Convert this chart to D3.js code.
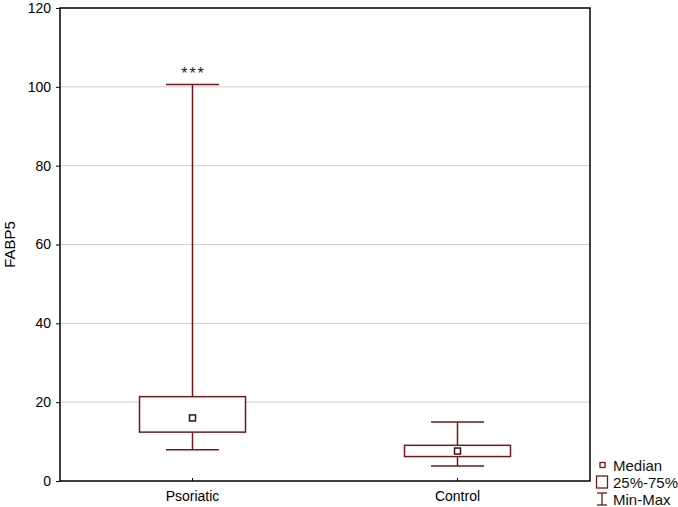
<!DOCTYPE html>
<html><head><meta charset="utf-8">
<script src="https://cdn.jsdelivr.net/npm/d3@7"></script>
<style>body{margin:0;background:#fff}text{font-family:Arial,"Liberation Sans",sans-serif}</style>
</head><body>
<svg id="c" width="678" height="507"></svg>
<script>
const categories = ["Psoriatic", "Control"];
const minVals = [7.9, 3.8];
const q1Vals = [12.4, 6.2];
const medianVals = [16.0, 7.6];
const q3Vals = [21.4, 9.05];
const maxVals = [100.6, 15.0];
const yTicks = [0, 20, 40, 60, 80, 100, 120];
const annotations = ["***", ""];
const legendLabels = ["Median", "25%-75%", "Min-Max"];

const col = "#6e1a1a";
const svg = d3.select("#c");
const m = {l: 60, r: 88, t: 8, b: 26};
const W = 678, H = 507;
const x = d3.scaleBand().domain(categories).range([m.l, W - m.r]);
const y = d3.scaleLinear().domain([0, 120]).range([H - m.b, m.t]);

// gridlines
svg.append("g").selectAll("line").data(yTicks.filter(d => d > 0 && d < 120)).join("line")
  .attr("x1", m.l).attr("x2", W - m.r).attr("y1", d => y(d)).attr("y2", d => y(d))
  .attr("stroke", "#cfcfcf").attr("stroke-width", 1);

// y axis
const ya = svg.append("g").attr("transform", `translate(${m.l},0)`)
  .call(d3.axisLeft(y).tickValues(yTicks).tickSize(4).tickPadding(5));
ya.select(".domain").remove();
ya.selectAll("text").attr("font-size", 14).attr("fill", "#000");
ya.selectAll("line").attr("stroke", "#000");

// x axis
const xa = svg.append("g").attr("transform", `translate(0,${H - m.b})`)
  .call(d3.axisBottom(x).tickSize(-3).tickPadding(10));
xa.select(".domain").remove();
xa.selectAll("text").attr("font-size", 14).attr("fill", "#000");
xa.selectAll("line").attr("stroke", "#000");

// frame
svg.append("rect").attr("x", m.l).attr("y", m.t).attr("width", W - m.l - m.r).attr("height", H - m.t - m.b)
  .attr("fill", "none").attr("stroke", "#000").attr("stroke-width", 1.5);

// y label
svg.append("text").attr("transform", `translate(15,${(m.t + H - m.b) / 2}) rotate(-90)`)
  .attr("text-anchor", "middle").attr("font-size", 15).text("FABP5");

const bw = x.bandwidth() * 0.4, cw = x.bandwidth() * 0.2;
const g = svg.append("g");
categories.forEach((c, i) => {
  const cx = x(c) + x.bandwidth() / 2;
  g.append("line").attr("x1", cx).attr("x2", cx).attr("y1", y(maxVals[i])).attr("y2", y(q3Vals[i])).attr("stroke", col).attr("stroke-width", 1.5);
  g.append("line").attr("x1", cx).attr("x2", cx).attr("y1", y(q1Vals[i])).attr("y2", y(minVals[i])).attr("stroke", col).attr("stroke-width", 1.5);
  [maxVals[i], minVals[i]].forEach(v => g.append("line").attr("x1", cx - cw / 2).attr("x2", cx + cw / 2).attr("y1", y(v)).attr("y2", y(v)).attr("stroke", col).attr("stroke-width", 1.5));
  g.append("rect").attr("x", cx - bw / 2).attr("width", bw).attr("y", y(q3Vals[i])).attr("height", y(q1Vals[i]) - y(q3Vals[i]))
    .attr("fill", "#fff").attr("stroke", col).attr("stroke-width", 1.5);
  g.append("rect").attr("x", cx - 3).attr("y", y(medianVals[i]) - 3).attr("width", 6).attr("height", 6)
    .attr("fill", "#fff").attr("stroke", "#3a1010").attr("stroke-width", 1.5);
  if (annotations[i]) g.append("text").attr("x", cx + 1).attr("y", y(maxVals[i]) - 5).attr("text-anchor", "middle")
    .attr("font-size", 16).attr("letter-spacing", 2).attr("fill", "#222").text(annotations[i]);
});

// legend
const lg = svg.append("g").attr("transform", "translate(596,465)");
lg.append("rect").attr("x", 4).attr("y", -2.5).attr("width", 5).attr("height", 5).attr("fill", "#fff").attr("stroke", col).attr("stroke-width", 1.3);
lg.append("rect").attr("x", 0.5).attr("y", 11).attr("width", 11).attr("height", 12).attr("fill", "#fff").attr("stroke", col).attr("stroke-width", 1.3);
lg.append("line").attr("x1", 6).attr("x2", 6).attr("y1", 28).attr("y2", 40).attr("stroke", col).attr("stroke-width", 1.3);
lg.append("line").attr("x1", 1).attr("x2", 11).attr("y1", 28).attr("y2", 28).attr("stroke", col).attr("stroke-width", 1.3);
lg.append("line").attr("x1", 1).attr("x2", 11).attr("y1", 40).attr("y2", 40).attr("stroke", col).attr("stroke-width", 1.3);
lg.selectAll("text").data(legendLabels).join("text")
  .attr("x", 17).attr("y", (d, i) => i * 17 + 5.5).attr("font-size", 15).attr("fill", "#111").text(d => d);
</script>
</body></html>
